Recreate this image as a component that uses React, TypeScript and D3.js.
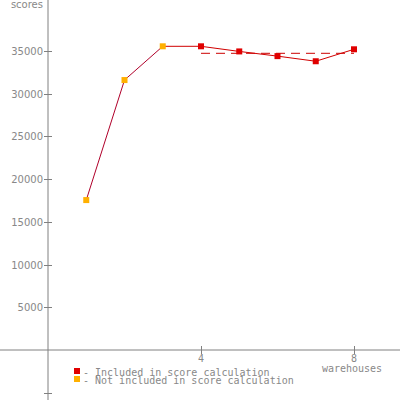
import React from "react";
import * as d3 from "d3";

const warehouses = [1, 2, 3, 4, 5, 6, 7, 8];
const scores = [17550, 31600, 35550, 35550, 34950, 34400, 33800, 35200];
const included = [false, false, false, true, true, true, true, true];
const yTicks = [5000, 10000, 15000, 20000, 25000, 30000, 35000];
const xTicks = [4, 8];
const meanScore = 34730;
const legendItems = ["- Included in score calculation", "- Not included in score calculation"];

export default function App() {
  const x = d3.scaleLinear().domain([0, 8]).range([48, 354]);
  const y = d3.scaleLinear().domain([0, 35000]).range([350, 51]);
  const axisColor = "#808080";
  const pts = warehouses.map((w, i) => ({ w, s: scores[i], inc: included[i] }));
  const line = d3.line<{ w: number; s: number }>().x(d => x(d.w)).y(d => y(d.s));
  const firstInc = pts.findIndex(p => p.inc);
  const pre = pts.slice(0, firstInc);
  const post = pts.slice(firstInc - 1);
  return (
    <svg width={400} height={400} style={{ position: "absolute", left: 0, top: 0 }}>
      <rect width={400} height={400} fill="#fff" />
      <line x1={x(0)} x2={x(0)} y1={0} y2={400} stroke={axisColor} />
      <line x1={0} x2={400} y1={y(0)} y2={y(0)} stroke={axisColor} />
      {[...yTicks, -5000].map(t => (
        <g key={t}>
          <line x1={x(0) - 4} x2={x(0) + 4} y1={Math.round(y(t)) + 0.5} y2={Math.round(y(t)) + 0.5} stroke={axisColor} />
          {t > 0 && (
            <text x={43} y={y(t) + 4} textAnchor="end" fontFamily="DejaVu Sans" fontSize={10} fill="#888">{t}</text>
          )}
        </g>
      ))}
      {xTicks.map(t => (
        <g key={t}>
          <line x1={Math.round(x(t)) + 0.5} x2={Math.round(x(t)) + 0.5} y1={y(0) - 4} y2={y(0) + 4} stroke={axisColor} />
          <text x={x(t)} y={362} textAnchor="middle" fontFamily="DejaVu Sans Mono" fontSize={10} fill="#888">{t}</text>
        </g>
      ))}
      <text x={43} y={8} textAnchor="end" fontFamily="DejaVu Sans" fontSize={10} fill="#888">scores</text>
      <text x={352} y={372} textAnchor="middle" fontFamily="DejaVu Sans Mono" fontSize={10} fill="#888">warehouses</text>
      <line x1={x(4)} x2={x(8)} y1={y(meanScore)} y2={y(meanScore)} stroke="#cc0000" strokeDasharray="9,6" />
      <path d={line(pre) || ""} fill="none" stroke="#b0002a" strokeWidth={1} />
      <path d={line(post) || ""} fill="none" stroke="#d00000" strokeWidth={1} />
      {pts.map(p => (
        <rect key={p.w} x={x(p.w) - 3} y={y(p.s) - 3} width={6} height={6} fill={p.inc ? "#e00000" : "#ffb000"} />
      ))}
      {legendItems.map((t, i) => (
        <g key={t}>
          <rect x={74} y={368 + i * 8} width={6} height={6} fill={i === 0 ? "#e00000" : "#ffb000"} />
          <text x={83} y={376 + i * 8} fontFamily="DejaVu Sans Mono" fontSize={10} fill="#888">{t}</text>
        </g>
      ))}
    </svg>
  );
}
